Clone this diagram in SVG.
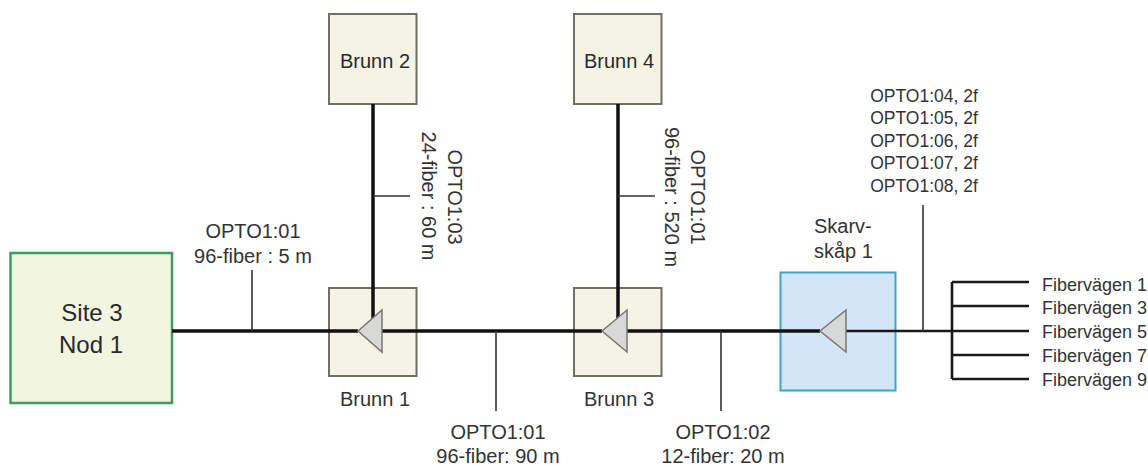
<svg xmlns="http://www.w3.org/2000/svg" width="1148" height="466" viewBox="0 0 1148 466">
<style>
text{font-family:"Liberation Sans",Arial,sans-serif;font-size:20px;fill:#333;text-anchor:middle}
.big{font-size:24px;fill:#2a2a2a}
.mid{font-size:20px;fill:#2a2a2a}
.s{font-size:17.500px}
.l{font-size:18px;text-anchor:start}
.sk{font-size:20px;text-anchor:start}
.b{fill:#f5f3e3;stroke:#6f6f64;stroke-width:2}
.t{fill:#d8d8d8;stroke:#77776f;stroke-width:1.500}
.k{fill:none;stroke:#111;stroke-width:3.500}
.m{fill:none;stroke:#1a1a1a;stroke-width:2.600}
.n{fill:none;stroke:#333;stroke-width:1.600}
</style>
<rect width="1148" height="466" fill="#fff"/>
<g id="site3"><rect x="10.500" y="253" width="161.500" height="150" fill="#f2f5df" stroke="#3d9a60" stroke-width="2.500"/><text class="big" x="92" y="321">Site 3</text><text class="big" x="91" y="353">Nod 1</text></g>
<g id="brunn2"><rect class="b" x="329" y="14" width="87.500" height="90"/><text class="mid" x="375" y="68">Brunn 2</text></g>
<g id="brunn4"><rect class="b" x="574" y="14" width="87.500" height="90"/><text class="mid" x="619" y="68">Brunn 4</text></g>
<g id="brunn1"><rect class="b" x="329" y="288" width="87.500" height="88"/><text x="375" y="406">Brunn 1</text></g>
<g id="brunn3"><rect class="b" x="574" y="288" width="87.500" height="88"/><text x="619" y="406">Brunn 3</text></g>
<g id="skarv"><rect x="780.500" y="272.500" width="115" height="118" fill="#d2e6f7" stroke="#3fa3c9" stroke-width="2"/><text class="sk" x="814" y="233">Skarv-</text><text class="sk" x="814" y="258">skåp 1</text></g>
<g id="connectors">
<path class="k" d="M172 331H358M382 331H602M627 331H820"/>
<path class="k" d="M373 104V320M618 104V320"/>
<path class="m" d="M846 331H1029M952 282V379M952 282H1029M952 306H1029M952 355H1029M952 379H1029"/>
<path class="n" d="M252 270V331M496 331V411M721 331V411M923 205V331M373 196H410M618 196H655"/>
</g>
<g id="splitters">
<polygon class="t" points="358,331 382,310 382,352"/>
<polygon class="t" points="602,331 627,310 627,352"/>
<polygon class="t" points="820,331 846,310 846,352"/>
</g>
<g id="labels">
<text x="253" y="238">OPTO1:01</text><text x="253" y="263">96-fiber : 5 m</text>
<text x="498" y="439">OPTO1:01</text><text x="498" y="463">96-fiber: 90 m</text>
<text x="723" y="439">OPTO1:02</text><text x="723" y="463">12-fiber: 20 m</text>
<text transform="translate(448 197) rotate(90)">OPTO1:03</text><text transform="translate(422 196) rotate(90)">24-fiber : 60 m</text>
<text transform="translate(691 197) rotate(90)">OPTO1:01</text><text transform="translate(665 197) rotate(90)">96-fiber : 520 m</text>
<text class="s" x="924" y="102">OPTO1:04, 2f</text><text class="s" x="924" y="124">OPTO1:05, 2f</text><text class="s" x="924" y="147">OPTO1:06, 2f</text><text class="s" x="924" y="169">OPTO1:07, 2f</text><text class="s" x="924" y="192">OPTO1:08, 2f</text>
<text class="l" x="1042" y="291">Fibervägen 1</text><text class="l" x="1042" y="314">Fibervägen 3</text><text class="l" x="1042" y="338">Fibervägen 5</text><text class="l" x="1042" y="362">Fibervägen 7</text><text class="l" x="1042" y="386">Fibervägen 9</text>
</g>
</svg>
